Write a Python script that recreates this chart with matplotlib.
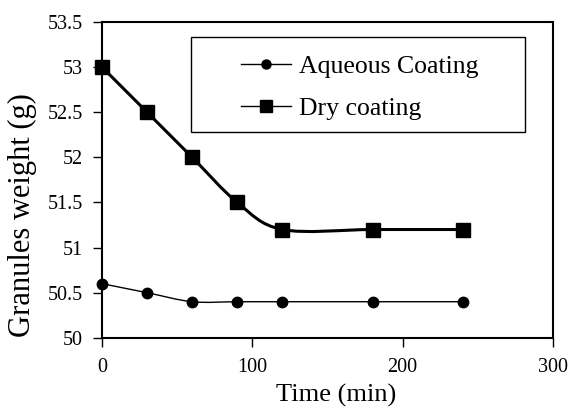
import matplotlib.pyplot as plt
from matplotlib.path import Path
from matplotlib.patches import PathPatch, Rectangle
from matplotlib.lines import Line2D

# data
time_min = [0, 30, 60, 90, 120, 180, 240]
aqueous = [50.6, 50.5, 50.4, 50.4, 50.4, 50.4, 50.4]
dry = [53.0, 52.5, 52.0, 51.5, 51.2, 51.2, 51.2]

plt.rcParams["font.family"] = ["Liberation Serif", "DejaVu Serif"]


def smooth_path(x, y):
    # Excel style smoothed line (Catmull-Rom as cubic Bezier)
    pts = list(zip(x, y))
    n = len(pts)
    verts = [pts[0]]
    codes = [Path.MOVETO]
    for i in range(n - 1):
        p0 = pts[i - 1] if i > 0 else pts[i]
        p1 = pts[i]
        p2 = pts[i + 1]
        p3 = pts[i + 2] if i + 2 < n else pts[i + 1]
        c1 = (p1[0] + (p2[0] - p0[0]) / 6, p1[1] + (p2[1] - p0[1]) / 6)
        c2 = (p2[0] - (p3[0] - p1[0]) / 6, p2[1] - (p3[1] - p1[1]) / 6)
        verts += [c1, c2, p2]
        codes += [Path.CURVE4] * 3
    return Path(verts, codes)


fig = plt.figure(figsize=(5.73, 4.07), dpi=100)
ax = fig.add_axes([0.178, 0.170, 0.787, 0.776])

ax.add_patch(PathPatch(smooth_path(time_min, aqueous), fill=False, lw=1.0, color="black"))
ax.add_patch(PathPatch(smooth_path(time_min, dry), fill=False, lw=2.2, color="black"))
ax.plot(time_min, aqueous, "o", color="black", ms=7.5, lw=0, clip_on=False)
ax.plot(time_min, dry, "s", color="black", ms=9.5, lw=0, clip_on=False)

ax.set_xlim(0, 300)
ax.set_ylim(50, 53.5)
ax.set_xticks([0, 100, 200, 300])
ax.set_yticks([50, 50.5, 51, 51.5, 52, 52.5, 53, 53.5])
ax.set_yticklabels(["50", "50.5", "51", "51.5", "52", "52.5", "53", "53.5"])
ax.tick_params(direction="out", length=6.5, width=1, labelsize=14.5, colors="black")
ax.tick_params(axis="x", pad=8)
ax.tick_params(axis="y", pad=7)
for s in ax.spines.values():
    s.set_linewidth(1.5)

ax.set_xlabel("Time (min)", fontsize=19)
ax.xaxis.label.set_va("center")
ax.xaxis.set_label_coords(0.52, -0.184)
ax.set_ylabel("Granules weight (g)", fontsize=22)
ax.yaxis.label.set_va("center")
ax.yaxis.set_label_coords(-0.177, 0.39)

# legend box
ax.add_patch(Rectangle((0.197, 0.652), 0.741, 0.301, transform=ax.transAxes,
                       fill=False, edgecolor="black", lw=1.0, zorder=3))
handles = [
    Line2D([], [], color="black", lw=1.0, marker="o", ms=6.5),
    Line2D([], [], color="black", lw=1.0, marker="s", ms=8),
]
ax.legend(handles, ["Aqueous Coating", "Dry coating"], loc="center",
          bbox_to_anchor=(0.572, 0.793), fontsize=18.5, frameon=False,
          handlelength=1.95, borderpad=0, labelspacing=0.75, handletextpad=0.31)

fig.savefig("out.png", dpi=100)
